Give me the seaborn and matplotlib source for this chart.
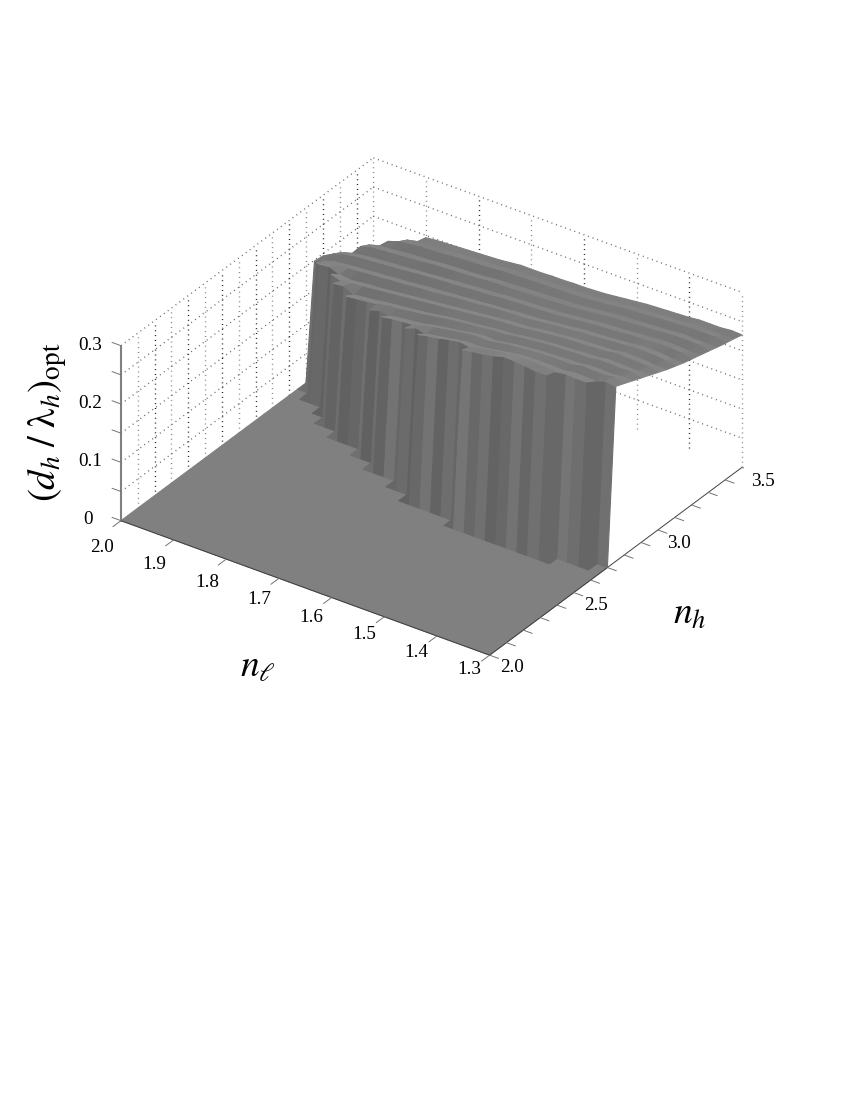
import matplotlib
matplotlib.use("Agg")
import matplotlib.pyplot as plt
import numpy as np
import seaborn as sns

# Grid of the surface
nl_values = [1.30, 1.32, 1.34, 1.36, 1.38, 1.40, 1.42, 1.44, 1.46, 1.48, 1.50, 1.52,
             1.54, 1.56, 1.58, 1.60, 1.62, 1.64, 1.66, 1.68, 1.70, 1.72, 1.74, 1.76,
             1.78, 1.80, 1.82, 1.84, 1.86, 1.88, 1.90, 1.92, 1.94, 1.96, 1.98, 2.00]
nh_floor = [2.00, 2.60]
nh_table = [2.65, 2.70, 2.75, 2.80, 2.85, 2.90, 2.95, 3.00, 3.05,
            3.10, 3.15, 3.20, 3.25, 3.30, 3.35, 3.40, 3.45, 3.50]

# d_h/lambda_h in thousandths, one row per nl value, columns follow nh_table
z_rows = [
    [0, 0, 300, 294, 288, 282, 276, 270, 264, 259, 254, 250, 246, 242, 238, 234, 231, 227],
    [0, 0, 302, 298, 288, 286, 276, 274, 264, 263, 254, 254, 246, 246, 238, 238, 230, 228],
    [0, 305, 296, 296, 286, 285, 276, 275, 266, 265, 256, 255, 247, 247, 238, 238, 230, 226],
    [0, 305, 297, 296, 287, 286, 277, 275, 267, 265, 257, 255, 248, 247, 239, 238, 231, 226],
    [0, 306, 297, 297, 287, 286, 277, 276, 267, 265, 257, 254, 247, 246, 238, 237, 230, 226],
    [308, 303, 294, 293, 284, 283, 274, 273, 264, 263, 254, 253, 245, 244, 236, 236, 228, 224],
    [308, 304, 295, 293, 284, 283, 274, 272, 263, 262, 253, 252, 244, 243, 235, 235, 227, 223],
    [310, 305, 295, 293, 283, 282, 272, 271, 262, 260, 251, 250, 242, 241, 234, 233, 226, 222],
    [312, 305, 295, 292, 282, 281, 271, 270, 261, 259, 250, 249, 241, 240, 233, 232, 225, 221],
    [313, 304, 294, 291, 281, 280, 270, 269, 260, 258, 249, 248, 240, 239, 232, 231, 224, 220],
    [308, 302, 291, 289, 279, 278, 268, 267, 258, 256, 247, 246, 238, 237, 230, 229, 222, 218],
    [304, 299, 288, 287, 277, 276, 266, 265, 256, 254, 245, 244, 236, 235, 228, 227, 220, 216],
    [302, 296, 285, 284, 274, 274, 264, 263, 254, 252, 243, 242, 234, 233, 226, 225, 218, 214],
    [298, 292, 282, 281, 271, 271, 261, 260, 251, 250, 241, 240, 232, 231, 224, 223, 216, 212],
    [0, 295, 283, 282, 272, 270, 260, 259, 250, 248, 239, 239, 231, 230, 223, 222, 215, 211],
    [0, 292, 280, 280, 270, 268, 258, 258, 249, 247, 238, 238, 230, 229, 222, 221, 214, 210],
    [0, 288, 277, 277, 267, 266, 256, 256, 247, 246, 237, 237, 229, 228, 221, 221, 214, 210],
    [0, 285, 274, 274, 264, 264, 254, 254, 245, 245, 235, 236, 228, 227, 220, 220, 213, 209],
    [0, 281, 271, 271, 261, 262, 252, 252, 243, 243, 234, 235, 227, 226, 219, 220, 213, 209],
    [0, 0, 275, 267, 258, 259, 250, 250, 241, 241, 232, 233, 225, 225, 218, 219, 212, 208],
    [0, 0, 268, 263, 254, 256, 247, 248, 239, 240, 231, 232, 224, 225, 217, 218, 212, 208],
    [0, 0, 0, 262, 252, 253, 244, 246, 237, 238, 229, 231, 223, 224, 216, 218, 211, 208],
    [0, 0, 0, 260, 250, 251, 242, 244, 235, 236, 228, 229, 221, 222, 214, 216, 209, 206],
    [0, 0, 0, 257, 247, 248, 240, 242, 233, 234, 226, 228, 220, 221, 213, 215, 208, 204],
    [0, 0, 0, 0, 250, 247, 238, 240, 231, 233, 225, 227, 218, 220, 212, 214, 207, 203],
    [0, 0, 0, 0, 245, 244, 236, 238, 229, 231, 223, 225, 217, 219, 211, 213, 206, 202],
    [0, 0, 0, 0, 0, 242, 233, 236, 227, 229, 221, 224, 215, 218, 210, 212, 205, 201],
    [0, 0, 0, 0, 0, 240, 231, 234, 225, 228, 220, 222, 214, 216, 208, 210, 204, 200],
    [0, 0, 0, 0, 0, 238, 229, 232, 224, 226, 218, 220, 212, 214, 207, 209, 203, 199],
    [0, 0, 0, 0, 0, 0, 238, 231, 222, 225, 217, 219, 211, 213, 206, 208, 202, 198],
    [0, 0, 0, 0, 0, 0, 236, 229, 220, 223, 215, 217, 209, 211, 204, 206, 200, 196],
    [0, 0, 0, 0, 0, 0, 0, 234, 223, 222, 214, 216, 208, 210, 202, 204, 196, 0],
    [0, 0, 0, 0, 0, 0, 0, 0, 230, 220, 212, 214, 206, 208, 201, 198, 0, 0],
    [0, 0, 0, 0, 0, 0, 0, 0, 228, 217, 210, 211, 203, 204, 196, 0, 0, 0],
    [0, 0, 0, 0, 0, 0, 0, 0, 0, 212, 205, 206, 198, 0, 0, 0, 0, 0],
    [0, 0, 0, 0, 0, 0, 0, 0, 0, 0, 198, 196, 0, 0, 0, 0, 0, 0],
]

# Brightness of the curtain between two neighbouring nl rows
wall_gray = [0.44, 0.40, 0.43, 0.46, 0.41, 0.44, 0.40, 0.45, 0.41, 0.39, 0.44, 0.41,
             0.46, 0.40, 0.43, 0.39, 0.45, 0.41, 0.38, 0.42, 0.40, 0.45, 0.39, 0.43,
             0.38, 0.44, 0.40, 0.38, 0.43, 0.39, 0.42, 0.38, 0.41, 0.40, 0.43]

# Ticks
nl_ticks = [2.0, 1.9, 1.8, 1.7, 1.6, 1.5, 1.4, 1.3]
nh_ticks = [2.0, 2.1, 2.2, 2.3, 2.4, 2.5, 2.6, 2.7, 2.8, 2.9, 3.0, 3.1, 3.2, 3.3, 3.4, 3.5]
nh_labels = [2.0, 2.5, 3.0, 3.5]
z_ticks = [0, 0.05, 0.1, 0.15, 0.2, 0.25, 0.3]
z_labels = [0, 0.1, 0.2, 0.3]

sns.set_theme(style="white")
plt.rcParams["font.family"] = ["Liberation Serif", "DejaVu Serif"]
plt.rcParams["mathtext.fontset"] = "stix"
gray_map = sns.color_palette("gray", as_cmap=True)

nh_values = nh_floor + nh_table
z_table = np.array(z_rows, dtype=float)
z_grid = np.hstack([np.zeros((len(nl_values), len(nh_floor))), z_table]) / 1000
nl_grid, nh_grid = np.meshgrid(nl_values, nh_values, indexing="ij")

# One gray per face: flat floor, striped curtain, top shaded by slope along nh
front = z_grid[:-1, :-1] + z_grid[1:, :-1]
back_low = np.minimum(z_grid[:-1, 1:], z_grid[1:, 1:])
corners = np.stack([z_grid[:-1, :-1], z_grid[1:, :-1], z_grid[:-1, 1:], z_grid[1:, 1:]])
low = corners.min(axis=0)
high = corners.max(axis=0)
slope = 500 * (z_grid[:-1, 1:] + z_grid[1:, 1:] - z_grid[:-1, :-1] - z_grid[1:, :-1])
face_gray = np.clip(0.5 - 0.007 * (slope + 5), 0.44, 0.53)
curtain = np.repeat(np.array(wall_gray)[:, None], z_grid.shape[1] - 1, axis=1)
face_gray = np.where(low == 0, curtain, face_gray)
face_gray = np.where((front > 0) & (back_low == 0), 0.48, face_gray)
face_gray = np.where(high == 0, 0.5, face_gray)

fig = plt.figure(figsize=(8.5, 11), dpi=100)
ax = fig.add_axes([101.5 / 850, 363.5 / 1100, 642.6 / 850, 642.6 / 1100],
                  projection="3d", proj_type="ortho", computed_zorder=False)
ax.set_box_aspect((450, 440, 205))
ax.view_init(elev=31.4, azim=-55)
ax.set_axis_off()

nl_lo, nl_hi = nl_ticks[-1], nl_ticks[0]
nh_lo, nh_hi = nh_ticks[0], nh_ticks[-1]
z_lo, z_hi = z_ticks[0], z_ticks[-1]
dots = (0, (0.7, 2.8))

# Dotted grid on the two back walls
for i, nh in enumerate(nh_ticks[1:]):
    shade = "0.1" if i % 2 == 1 else "0.5"
    ax.plot([nl_hi, nl_hi], [nh, nh], [z_lo, z_hi], color=shade, lw=1, ls=dots, zorder=1)
for i, nl in enumerate(nl_ticks[1:]):
    shade = "0.1" if i % 2 == 1 else "0.5"
    ax.plot([nl, nl], [nh_hi, nh_hi], [z_lo, z_hi], color=shade, lw=1, ls=dots, zorder=1)
for z in z_ticks[1:]:
    ax.plot([nl_hi, nl_hi], [nh_lo, nh_hi], [z, z], color="0.4", lw=1, ls=dots, zorder=1)
    ax.plot([nl_hi, nl_lo], [nh_hi, nh_hi], [z, z], color="0.4", lw=1, ls=dots, zorder=1)

ax.plot_surface(nl_grid, nh_grid, z_grid, facecolors=gray_map(face_gray), rstride=1, cstride=1,
                shade=False, linewidth=0.8, zorder=2)

# Axis lines and ticks
ax.plot([nl_hi, nl_hi], [nh_lo, nh_lo], [z_lo, z_hi], color="0.5", lw=1.5, zorder=3)
ax.plot([nl_hi, nl_lo], [nh_lo, nh_lo], [0, 0], color="0.25", lw=0.7, zorder=3)
ax.plot([nl_lo, nl_lo], [nh_lo, nh_hi], [0, 0], color="0.25", lw=0.7, zorder=3)
for z in z_ticks:
    ax.plot([nl_hi, nl_hi + 0.017], [nh_lo, nh_lo], [z, z], color="0.45", lw=0.7, zorder=3)
for nl in nl_ticks:
    ax.plot([nl, nl], [nh_lo, nh_lo - 0.048], [0, 0], color="0.45", lw=0.7, zorder=3)
for nh in nh_ticks:
    ax.plot([nl_lo, nl_lo - 0.017], [nh, nh], [0, 0], color="0.45", lw=0.7, zorder=3)

ax.set_xlim(nl_hi, nl_lo, view_margin=0)
ax.set_ylim(nh_lo, nh_hi, view_margin=0)
ax.set_zlim(z_lo, z_hi, view_margin=0)


def label(x, y, text, **kwargs):
    # x and y in pixels from the top left of the picture
    fig.text(x / 850, 1 - y / 1100, text, ha="center", va="center", color="black", **kwargs)


for nl in nl_ticks:
    frac = (nl_hi - nl) / (nl_hi - nl_lo)
    label(102 + 367 * frac, 547 + 123 * frac, f"{nl:.1f}", fontsize=13.8)
for nh in nh_labels:
    frac = (nh - nh_lo) / (nh_hi - nh_lo)
    label(512 + 251 * frac, 668 - 187 * frac, f"{nh:.1f}", fontsize=13.8)
for z in z_labels:
    frac = z / z_hi
    text = f"{z:.1f}" if z else "0"
    label(88 + 2 * (z > 0), 520 - 175 * frac, text, fontsize=13.8)

label(258, 667, r"$n_{\ell}$", fontsize=27)
label(690, 615, r"$n_h$", fontsize=27)
label(47, 422, r"$(d_h\;/\;\mathrm{\lambda}_h)_{\mathrm{opt}}$", fontsize=28, rotation=90)

fig.savefig("out.png", dpi=100)
